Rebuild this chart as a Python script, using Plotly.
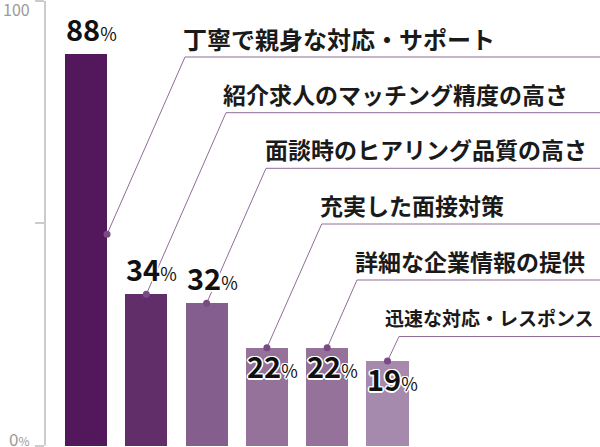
import plotly.graph_objects as go

# ---------------- data ----------------
categories = [
    "丁寧で親身な対応・サポート",
    "紹介求人のマッチング精度の高さ",
    "面談時のヒアリング品質の高さ",
    "充実した面接対策",
    "詳細な企業情報の提供",
    "迅速な対応・レスポンス",
]
values = [88, 34, 32, 22, 22, 19]
tick_values = [0, 50, 100]
axis_top_label = "100"
axis_bottom_label = "0"

# ---------------- style / layout ----------------
bar_colors = ["#52185b", "#612e6a", "#845f8e", "#957299", "#957299", "#a68aad"]
FONT = "Noto Sans CJK JP"
W, H = 600, 447
ML = 45
XMIN, XMAX = -0.68, 8.524
YMIN, YMAX = -0.337, 100.225
BAR_W = 0.697
LINE_COLOR = "#8f6d99"
DOT_COLOR = "#7a4a86"

# leader-line anchor positions in pixels (where the horizontal rule starts)
leader_start = [(185, 57), (226, 112.7), (266, 168.3), (321.7, 224), (357, 280), (399, 336.5)]
label_left = [183, 223, 265, 320, 355, 385]
label_size = [24, 23, 23, 23, 23, 19]


def px_x(px):
    return XMIN + (px - ML) * (XMAX - XMIN) / (W - ML)


def px_y(py):
    return YMAX - py * (YMAX - YMIN) / H


xs = list(range(len(values)))

fig = go.Figure()
fig.add_trace(go.Bar(
    x=xs, y=values, width=BAR_W,
    marker=dict(color=bar_colors, line=dict(width=0)),
    hoverinfo="skip", showlegend=False,
))

# leader lines and dots
dot_x, dot_y = [], []
for i, v in enumerate(values):
    if i == 0:
        dx, dy = i + BAR_W / 2, v * 0.54
    else:
        dx, dy = i, v
    dot_x.append(dx)
    dot_y.append(dy)
    lx, ly = leader_start[i]
    fig.add_trace(go.Scatter(
        x=[dx, px_x(lx), XMAX], y=[dy, px_y(ly), px_y(ly)],
        mode="lines", line=dict(color=LINE_COLOR, width=1),
        hoverinfo="skip", showlegend=False,
    ))
fig.add_trace(go.Scatter(
    x=dot_x, y=dot_y, mode="markers",
    marker=dict(color=DOT_COLOR, size=7),
    hoverinfo="skip", showlegend=False,
))

annotations = []
# category labels
for i, name in enumerate(categories):
    lx, ly = leader_start[i]
    annotations.append(dict(
        x=px_x(label_left[i] - 2), y=px_y(ly - 19),
        xref="x", yref="y", xanchor="left", yanchor="middle",
        text=f"<b>{name}</b>", showarrow=False,
        font=dict(family=FONT, size=label_size[i], color="#1a1a1a"),
    ))

# value labels
shadow = ("1px 1px 0 #fff, -1px -1px 0 #fff, 1px -1px 0 #fff, -1px 1px 0 #fff, "
          "0 1.5px 0 #fff, 1.5px 0 0 #fff, 0 -1.5px 0 #fff, -1.5px 0 0 #fff")
for i, v in enumerate(values):
    inside = v < 30
    annotations.append(dict(
        x=i - BAR_W / 2, y=v, xref="x", yref="y",
        xanchor="left", yanchor="top" if inside else "bottom",
        xshift=-1, yshift=6 if inside else 3,
        text=f"<b>{v}</b><span style='font-size:18px'>%</span>",
        showarrow=False,
        font=dict(family=FONT, size=29, color="#111111", shadow=shadow),
    ))

# axis labels
annotations.append(dict(
    x=0, y=px_y(9), xref="paper", yref="y", xanchor="right", yanchor="middle",
    xshift=-13, text=axis_top_label, showarrow=False,
    font=dict(family=FONT, size=16, color="#9a9a9a"),
))
annotations.append(dict(
    x=0, y=px_y(438), xref="paper", yref="y", xanchor="right", yanchor="middle",
    xshift=-13, text=f"{axis_bottom_label}<span style='font-size:12px'>%</span>",
    showarrow=False,
    font=dict(family=FONT, size=17, color="#9a9a9a"),
))

fig.update_layout(
    width=W, height=H,
    margin=dict(l=ML, r=0, t=0, b=0),
    paper_bgcolor="white", plot_bgcolor="white",
    xaxis=dict(range=[XMIN, XMAX], visible=False, fixedrange=True),
    yaxis=dict(
        range=[YMIN, YMAX], showgrid=False, zeroline=False, showline=False,
        tickvals=tick_values, ticks="outside", ticklen=9, tickwidth=2,
        tickcolor="#cccccc", showticklabels=False, fixedrange=True,
    ),
    shapes=[dict(
        type="line", xref="paper", yref="y", x0=0, x1=0,
        y0=tick_values[0], y1=tick_values[-1],
        line=dict(color="#cccccc", width=2), layer="below",
    )],
    annotations=annotations,
    bargap=0,
)

fig.write_html(
    "out.html",
    config={"displayModeBar": False},
    post_script="document.body.style.margin='0';document.body.style.overflow='hidden';",
)
